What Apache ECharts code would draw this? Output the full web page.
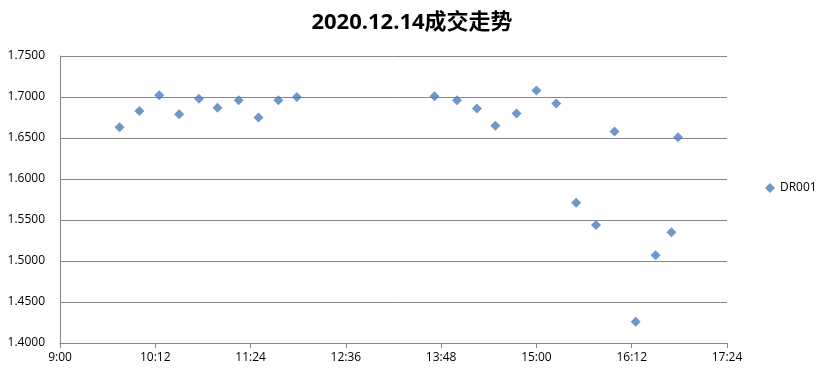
<!DOCTYPE html>
<html>
<head>
<meta charset="utf-8">
<script src="https://cdn.jsdelivr.net/npm/echarts@6/dist/echarts.min.js"></script>
<style>
  html, body { margin: 0; padding: 0; background: #fff; }
  #chart { width: 824px; height: 376px; }
</style>
</head>
<body>
<div id="chart"></div>
<script>
// 成交时间 / 成交利率 (DR001)
const tradeTimes = [
  "9:45", "10:00", "10:15", "10:30", "10:45", "10:59", "11:15", "11:30", "11:45", "11:59",
  "13:43", "14:00", "14:15", "14:29", "14:45", "15:00", "15:15", "15:30", "15:45", "15:59",
  "16:15", "16:30", "16:42", "16:47"
];
const rateValues = [
  1.663, 1.683, 1.702, 1.679, 1.698, 1.687, 1.696, 1.675, 1.696, 1.700,
  1.701, 1.696, 1.686, 1.665, 1.680, 1.708, 1.692, 1.571, 1.544, 1.658,
  1.426, 1.507, 1.535, 1.651
];
const seriesName = "DR001";
const xMin = 540, xMax = 1044, xStep = 72; // 9:00 ~ 17:24
const yMin = 1.4, yMax = 1.75, yStep = 0.05;

function toMinutes(t) {
  const p = t.split(":");
  return parseInt(p[0]) * 60 + parseInt(p[1]);
}
function toClock(m) {
  const h = Math.floor(m / 60);
  const mm = m % 60;
  return h + ":" + (mm < 10 ? "0" + mm : mm);
}

const points = tradeTimes.map((t, i) => [toMinutes(t), rateValues[i]]);

const chart = echarts.init(document.getElementById("chart"));
const axisGrey = "#868686";
chart.setOption({
  backgroundColor: "#fff",
  animation: false,
  title: {
    text: "2020.12.14成交走势",
    left: "center",
    top: 7,
    textStyle: {
      fontFamily: "'Open Sans', 'Noto Sans CJK SC', sans-serif",
      fontSize: 22,
      fontWeight: "bold",
      color: "#000"
    }
  },
  legend: {
    left: 765,
    top: "middle",
    orient: "vertical",
    icon: "diamond",
    itemWidth: 10,
    itemHeight: 10,
    itemGap: 4,
    padding: 0,
    textStyle: { color: "#000", fontSize: 12, fontFamily: "'Open Sans', sans-serif" },
    data: [seriesName]
  },
  grid: { left: 60, right: 97, top: 56, bottom: 33 },
  xAxis: {
    type: "value",
    min: xMin,
    max: xMax,
    interval: xStep,
    axisLine: { lineStyle: { color: axisGrey } },
    axisTick: { show: true, length: 5, lineStyle: { color: axisGrey } },
    splitLine: { show: false },
    axisLabel: {
      color: "#000",
      fontSize: 12,
      margin: 9,
      fontFamily: "'Open Sans', sans-serif",
      formatter: v => toClock(v)
    }
  },
  yAxis: {
    type: "value",
    min: yMin,
    max: yMax,
    interval: yStep,
    axisLine: { show: true, lineStyle: { color: axisGrey } },
    axisTick: { show: false },
    splitLine: { show: true, lineStyle: { color: axisGrey, width: 1 } },
    axisLabel: {
      color: "#000",
      fontSize: 12,
      margin: 15,
      fontFamily: "'Open Sans', sans-serif",
      formatter: v => v.toFixed(4)
    }
  },
  series: [{
    name: seriesName,
    type: "scatter",
    symbol: "diamond",
    symbolSize: 10,
    itemStyle: { color: "#4a7ebb" },
    data: points
  }]
});
</script>
</body>
</html>
